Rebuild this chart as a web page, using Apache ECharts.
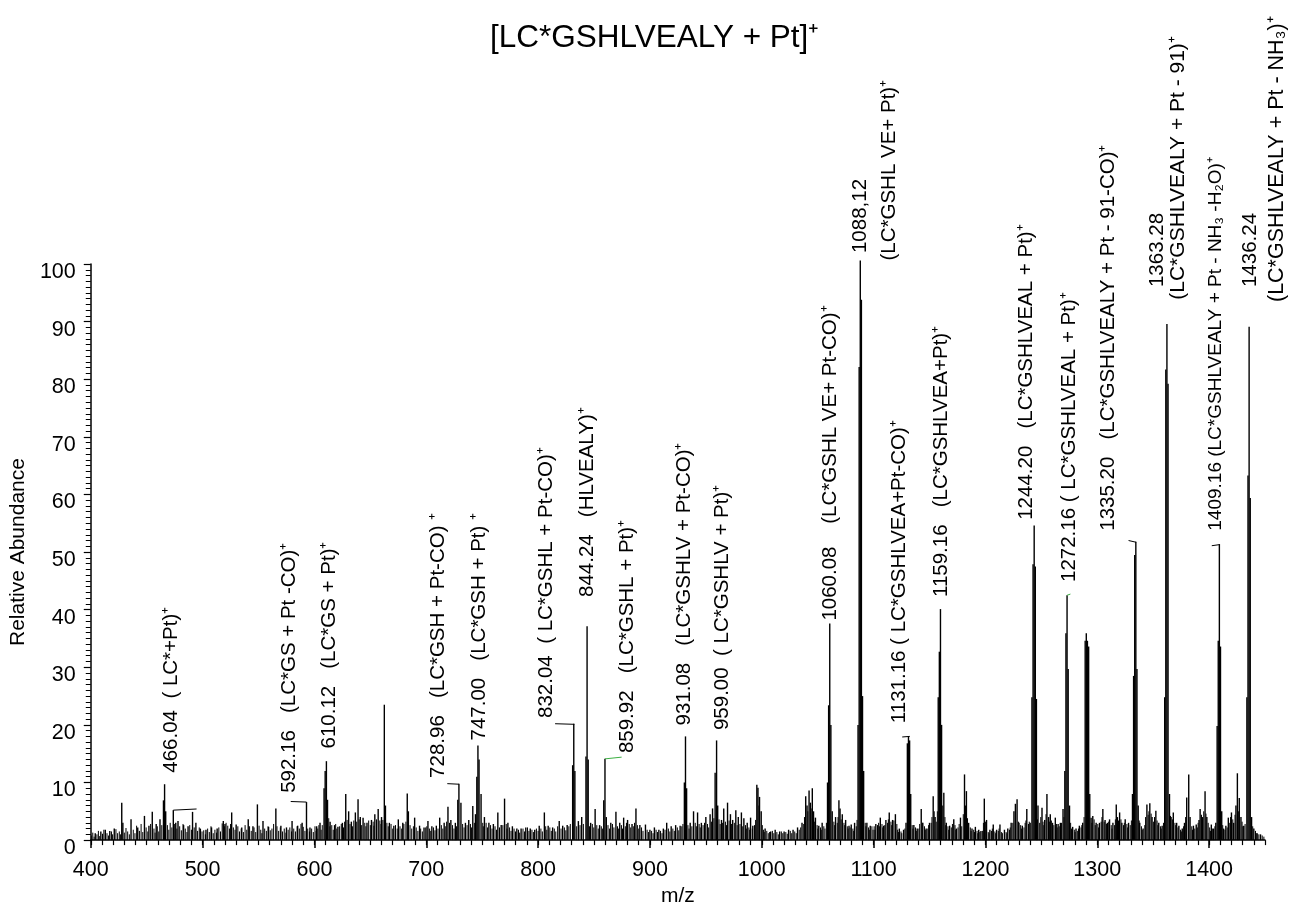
<!DOCTYPE html>
<html><head><meta charset="utf-8">
<script src="https://cdn.jsdelivr.net/npm/echarts@6/dist/echarts.min.js"></script>
<style>html,body{margin:0;padding:0;background:#fff}#c{width:1291px;height:912px}</style>
</head><body><div id="c"></div>
<script>
const FONT = '"Liberation Sans", Arial, Helvetica, sans-serif';
const titleText = '[LC*GSHLVEALY + Pt]\u207A';
const xName = 'm/z';
const yName = 'Relative Abundance';
const xMajorTicks = [400, 500, 600, 700, 800, 900, 1000, 1100, 1200, 1300, 1400];

// notable peaks [m/z, relative abundance]
const peaks = [
[404,1.2],[409,1.5],[413,1.8],[417,1.6],[421,2.0],[427.7,6.5],[428.7,3],[436,3.6],[442,2.2],[448,4.2],[452,2.5],[455,4.9],[458.5,2.8],[461.9,3.6],[465,6.9],[466.0,9.7],[467,5],[473.8,5.2],[476,3],[478,3.3],[483,2.6],[487,2.4],[491,4.9],[494,3.0],[498,2.0],
[503,1.8],[508,2.2],[513,2.0],[518.5,3.3],[520,2.8],[526,4.8],[530,2.7],[535,2.2],[540.8,3.6],[545,2.4],[549,6.2],[554,3.3],[559,2.3],[565.5,5.5],[570,2.5],[575,2.2],[580,3.3],[585,2.5],[589,3.0],[592.9,6.6],[596,2.2],
[602,2.4],[605,3.0],[608.6,9.0],[609.6,12],[610.7,13.7],[611.7,7],[614,3.2],[618,2.6],[621,2.3],[625,3],[628,8],[630.6,5],[633,3.2],[636.6,4.8],[639,7.1],[641,4],[643.5,3.9],[647,3],[651,3.5],[654,4.5],[657,5.4],[660,4],[662.5,23.5],[663.5,6],[667,3],[671,2.5],[675,3.6],[679,3],[683,8.1],[684,5],[689.6,3.9],[694,2.5],[698,2.2],
[701.5,3.3],[705,2.4],[709,2.5],[712,3.9],[716,3],[719.4,5.8],[722,3.5],[726,3],[728.2,7],[729.2,9.8],[731,6.5],[735,3],[738,3.5],[741.6,5.9],[744,4.5],[745.2,11],[746.2,16.4],[747.2,14],[749,8],[752,4],[756,3],[760,2.8],[764,4.8],[767,2.6],[770,7.2],[773,3],[777,2.4],[781,2],[784.8,2],[789,2.2],[793,2],[797,1.8],
[801,2.5],[805.6,4.8],[809,2.5],[813,2.2],[818.9,3.3],[822,2.5],[826,2.6],[830.9,13],[831.9,20.2],[832.9,12],[836,3.3],[839,4],[842.8,14.5],[843.8,37.1],[844.8,14],[847,3],[851,5.4],[855,2.6],[858.7,6.9],[859.8,14.1],[861,4],[865,3],[869.6,4.9],[873,3],[876.5,3.9],[880,3.5],[884,2.8],[887.5,5.5],[891,2.6],[896,2.7],
[900,1.8],[904,2.2],[908,1.8],[912,2],[915,3.0],[919,2.4],[923,2.6],[927,2.5],[930.8,10],[931.8,18.0],[932.8,9],[936,3],[939,5],[942.6,4.8],[946,3],[950,4],[953.8,4.5],[956,5.5],[958.3,11.7],[959.6,17.3],[960.6,6],[964,3.5],[966,5.5],[969.4,6.5],[972,4.5],[974,3.5],[976.8,5.2],[979,4],[981.8,4.8],[984,3.8],[987,3],[990,3.9],[992,2.5],[995.6,9.6],[996.6,9.1],[998,7.5],[999.5,5],
[1003,2],[1008,1.5],[1012,1.8],[1016,1.5],[1020,1.5],[1024,1.8],[1028,1.8],[1032,2.2],[1036,3],[1039.3,7.6],[1040.5,6],[1042.3,8.6],[1043.5,6.5],[1045.2,9.0],[1046.3,5],[1048,3.9],[1051,2.5],[1054,3],[1058.8,10],[1059.8,23.4],[1060.8,37.6],[1061.8,20],[1063,5],[1066,4],[1069,6.9],[1070,5.5],[1072,4.5],[1075,3.5],[1078,2.5],[1080,2.7],[1083,3],[1086.1,20],[1087.1,82.1],[1088.1,100.6],[1089.1,93.8],[1090.1,25],[1091.1,12],[1094,3],[1097,2.5],
[1102,2.8],[1106,3.9],[1109,2.5],[1111,3.5],[1114,4.8],[1117,3.5],[1119.5,4.5],[1123,2],[1126.8,1.8],[1129,3],[1130.2,16.8],[1131.2,17.9],[1132.2,17.3],[1133.2,8],[1136,2.6],[1139,2],[1142.6,5.4],[1144,3],[1147,2],[1150,3],[1153.3,7.6],[1155,4],[1157.8,24.8],[1158.8,32.7],[1159.8,40.1],[1160.8,20],[1162.8,8.2],[1165,3],[1168,2.5],[1171.7,3.6],[1174,2],[1177.7,3.9],[1181.3,11.4],[1183,8.5],[1185,3],[1188,2],[1191,2.3],[1194,1.8],[1196,1.6],[1199,7.2],[1201,3.5],
[1204,1.8],[1207,2.7],[1210,1.8],[1213,2.7],[1217,1.8],[1220,2],[1223,3],[1225.5,5],[1226.8,6.3],[1228.3,7.1],[1230,3],[1233,2.5],[1237,5.4],[1240,3],[1241.6,24.8],[1242.6,47.9],[1243.6,54.6],[1244.6,47.5],[1245.6,24.5],[1247,6],[1250.6,5.6],[1253,3.5],[1255,8],[1256.5,4],[1258,4.5],[1260,3],[1262.5,3.9],[1265,2.8],[1267,3],[1269.4,5.4],[1271,12],[1272,35.9],[1273,42.5],[1274,29.7],[1275.2,6],[1278,2.3],[1281,2],[1284,2.5],[1287,3],[1289.2,34.6],[1290.2,35.9],[1291.2,34.6],[1292.3,33.6],[1293.3,8],[1294.5,3.9],[1296,4.2],[1299,3],
[1302,3],[1305,5.4],[1307,3.5],[1309,3],[1311,3.6],[1314,3],[1317,6.2],[1318,4],[1320,4.8],[1322,3],[1325,3.6],[1328,3],[1331.5,8],[1332.5,28.5],[1333.5,49.5],[1334.5,51.8],[1335.5,29.7],[1336.6,6],[1338,3],[1341,2],[1344.4,6.2],[1347,6.4],[1349,4],[1352.4,5.1],[1355,3],[1358,2.5],[1360.3,24.8],[1361.3,81.7],[1362.3,89.6],[1363.3,79.2],[1364.6,8],[1366,4],[1368,4.8],[1371,3],[1373,2.5],[1376,2],[1378,3],[1380,7.4],[1381.8,11.4],[1383,4],[1386,2.5],[1388.5,2.7],[1391,3.5],[1392,5.4],[1394,4],[1396.4,8.5],[1398,4],
[1402,2.7],[1404,2],[1406,3],[1407.2,19.8],[1408.2,34.6],[1409.2,51.3],[1410.2,33.6],[1411.3,5],[1413,2],[1415,2.5],[1417.2,3.9],[1420,4.8],[1422,3],[1424,6],[1425.3,11.6],[1427,7.3],[1428.5,4],[1431,2.5],[1433.8,24.8],[1434.8,63.3],[1435.8,89.1],[1436.8,59.4],[1438,4],[1440,2],[1443,1.2],[1446,1]
];

// low-level baseline noise [m/z, relative abundance]
const noise = [
[400.5,0.8],[401.8,1.3],[403,0.6],[405.5,1.0],[406.8,1.6],[408,0.7],[410.5,1.1],[411.7,1.8],[414.5,1.2],[415.8,0.8],[418.5,1.5],[419.5,1.0],[422.5,1.9],[424,1.2],[425.5,1.5],[426.5,1.0],[430,1.3],[431.5,2.1],[433,1.5],[434.5,1.0],[438,1.8],[439.5,1.2],[441,2.5],[443.5,1.6],[445,2.8],[446.5,1.4],[449.5,2.2],[451,1.5],[453.5,2.8],[456.5,2.0],[457.5,1.3],[459.5,2.4],[460.8,1.5],[463.5,2.6],[468.5,2.6],[469.8,1.8],[471,3.0],[472.5,2.2],[475,2.8],[477,2.0],[479.5,2.4],[481,1.7],[482.5,2.8],[484.5,2.0],[486,1.4],[488.5,2.6],[490,1.8],[492.5,2.2],[495.5,1.6],[497,2.2],[499.5,1.5],
[501,1.7],[502.5,1.0],[504.5,2.0],[506,1.4],[507.5,2.4],[509.5,1.2],[511,1.8],[512.5,1.3],[514.5,2.2],[516,1.5],[517.5,2.9],[519.5,2.4],[521,3.0],[522.5,2.5],[524,2.0],[525,2.8],[527.5,2.2],[529,1.8],[531.5,2.4],[533,1.5],[534.5,2.0],[536.5,1.4],[538,2.6],[539.5,1.8],[542,2.4],[543.5,1.6],[546,2.2],[547.5,1.4],[550.5,2.5],[552,1.8],[553,1.2],[555.5,2.0],[557,1.6],[558.5,2.4],[560.5,1.7],[562,2.0],[563.5,2.8],[566.5,2.4],[568,1.6],[569.5,2.2],[571.5,1.5],[573,2.0],[574.5,1.3],[576.5,1.8],[578,2.2],[579.5,1.5],[581.5,2.0],[583,1.5],[584.5,2.4],[586.5,2.0],[588,2.8],[590,2.3],[591.5,1.6],[594,2.0],[595.5,1.5],[597.5,2.0],[599,1.4],
[600.5,2.4],[601.5,1.6],[603,2.0],[604,2.6],[606,1.8],[607,2.6],[612.8,3.8],[613.8,2.4],[615.5,2.6],[616.8,1.8],[619,2.8],[620,2.0],[622.5,2.4],[624,2.8],[626,2.2],[627,3.2],[629.2,3.5],[631.8,2.8],[634,2.4],[635.2,3.4],[637.8,3.2],[640,3.6],[642.2,2.6],[645,3.0],[646,2.4],[648.5,3.4],[650,2.6],[652.5,3.2],[653.2,2.5],[655.5,3.6],[658.5,3.4],[659.5,2.8],[661.2,3.5],[664.8,3.0],[666,2.4],[668.5,2.8],[670,2.0],[672.5,2.6],[674,2.0],[676.5,2.4],[678,2.0],[680,2.8],[681.8,3.2],[685.5,2.6],[687,2.0],[688.5,2.4],[691,2.2],[692.5,1.6],[695,2.0],[696.5,1.5],[699.5,2.2],
[700.5,2.4],[703,2.0],[704,1.6],[706.5,2.2],[707.8,1.7],[710.5,2.0],[713.5,2.6],[714.8,2.0],[717,2.4],[718.2,3.2],[720.8,3.0],[723.5,2.6],[724.8,2.0],[727,2.4],[732.5,2.8],[733.8,2.2],[736.5,2.6],[739.5,2.8],[740.5,2.2],[743,3.0],[750.5,3.0],[751,2.4],[753.5,3.0],[754.8,2.2],[757.5,2.6],[758.8,2.0],[761.5,2.4],[762.8,1.8],[765.5,2.2],[768.5,2.6],[771.5,2.8],[772.2,2.0],[774.5,2.2],[775.8,1.6],[778.5,2.0],[779.8,1.5],[782.5,1.8],[783.5,1.3],[786.5,2.0],[787.8,1.5],[790.5,2.2],[791.8,1.6],[794.5,1.8],[795.8,1.4],[798.5,2.0],
[800,1.6],[802.5,2.0],[803.8,1.5],[806.8,2.4],[807.8,1.8],[810.5,2.2],[811.8,1.6],[814.5,2.0],[815.8,1.5],[817.5,2.4],[820.5,2.0],[823.5,2.2],[824.8,1.7],[827.5,2.4],[828.8,2.8],[834.5,2.4],[837.5,2.6],[840.5,2.8],[846,2.4],[848.5,2.8],[849.8,2.2],[852.5,2.6],[853.8,2.0],[856.5,2.4],[857.5,2.0],[862.5,2.6],[863.8,2.0],[866.5,2.8],[867.8,2.2],[871,2.4],[872,2.0],[874.5,2.6],[875.5,2.0],[878,2.4],[879,3.0],[881.5,2.8],[882.8,2.2],[885.5,2.4],[886.2,3.0],[888.8,2.6],[890,2.0],[892.5,2.2],[893.8,1.6],[897.5,1.8],[898.8,1.4],
[901.5,1.6],[902.8,1.2],[905.5,1.8],[906.8,1.4],[909.5,1.6],[910.8,1.2],[913.5,1.8],[916.5,2.0],[917.8,1.5],[920.5,2.0],[921.8,1.6],[924.5,2.2],[925.8,1.7],[928.5,2.4],[929.5,2.8],[934,2.6],[935,2.0],[937.5,2.4],[940.5,3.0],[941.5,2.4],[944,2.8],[945,2.2],[947.5,2.6],[948.8,3.0],[951.5,2.8],[952.5,2.2],[955,3.2],[957.2,3.8],[961.8,3.6],[962.8,2.8],[965,3.0],[967.5,3.2],[968.5,2.6],[970.8,3.4],[973,2.8],[975.5,3.0],[978,2.6],[980.5,2.8],[983,2.4],[985.5,2.6],[986.2,2.0],[988.5,2.2],[989.2,1.8],[991.5,2.0],[993.5,2.6],[994.5,3.5],[997.5,6.0],
[1000.5,2.6],[1001.5,1.8],[1002.2,1.4],[1004.5,1.6],[1005.8,1.2],[1007,1.4],[1009.5,1.6],[1010.8,1.2],[1013.5,1.4],[1014.8,1.0],[1017.5,1.5],[1018.8,1.2],[1021.5,1.4],[1022.8,1.1],[1025.5,1.6],[1026.8,1.2],[1029.5,1.5],[1030.8,1.2],[1033.5,1.8],[1034.8,2.2],[1037.5,2.8],[1038.2,4.0],[1041.2,5.0],[1044.2,5.5],[1047,3.2],[1049.5,2.6],[1050.2,2.0],[1052.5,2.2],[1053.2,1.8],[1055.5,2.4],[1056.5,2.0],[1057.8,3.0],[1064.5,3.2],[1065.2,2.6],[1067.5,3.0],[1068.2,4.0],[1071,3.6],[1073.5,3.0],[1074.2,2.6],[1076.5,2.4],[1077.2,2.0],[1079,2.2],[1081.5,2.0],[1082.2,1.6],[1084.5,2.4],[1085.2,3.5],[1092.5,3.0],[1093.2,2.4],[1095.5,2.2],[1096.2,1.8],[1098.5,2.4],[1099.5,1.8],
[1100.5,2.4],[1101.2,1.8],[1103.5,2.6],[1104.5,3.0],[1105.2,2.4],[1107.5,2.8],[1108.2,2.2],[1110,2.6],[1112.5,3.0],[1113.2,3.6],[1115.5,3.2],[1116.2,2.6],[1118.2,3.4],[1120.8,2.8],[1121.5,1.8],[1122.2,1.4],[1124.5,1.5],[1125.2,1.2],[1128,2.0],[1134.5,2.6],[1135.2,2.0],[1137.5,2.2],[1138.2,1.6],[1140.5,2.0],[1141.2,2.8],[1143.5,3.0],[1145.5,2.4],[1146.2,1.8],[1148.5,2.0],[1149.2,2.6],[1151.5,3.0],[1152.2,4.0],[1154.2,5.0],[1156,3.2],[1157,5.0],[1161.8,6.0],[1163.8,4.0],[1164.5,2.6],[1166.5,2.4],[1167.2,1.8],[1169.5,2.2],[1170.5,2.8],[1172.8,2.6],[1173.5,1.8],[1175.5,2.2],[1176.5,2.8],[1178.8,2.4],[1180.2,4.5],[1182.2,6.0],[1184,3.8],[1186.5,2.2],[1187.2,1.6],[1189.5,1.8],[1190.2,1.4],[1192.5,1.6],[1193.2,1.2],[1195,1.4],[1197.5,1.6],[1198.2,3.0],[1200,3.2],
[1202.5,1.4],[1203.2,1.2],[1205.5,1.6],[1206.2,2.0],[1208.5,1.5],[1209.2,1.2],[1211.5,1.6],[1212.2,2.0],[1214.5,1.4],[1215.2,1.2],[1218.5,1.4],[1219.2,1.2],[1221.5,1.8],[1222.2,2.2],[1224.5,3.0],[1229.5,3.2],[1231.5,2.6],[1232.2,2.0],[1234.5,2.2],[1235.5,3.0],[1236.2,3.4],[1238.5,2.8],[1239.2,3.2],[1246.5,3.6],[1248.5,3.0],[1249.5,4.0],[1251.5,3.2],[1252.2,2.6],[1254.2,4.5],[1257.2,3.2],[1259,3.4],[1261.2,2.6],[1263.5,2.8],[1264.2,2.2],[1266,2.4],[1268,3.0],[1270.2,4.0],[1276.2,3.0],[1277,2.0],[1279.5,1.8],[1280.2,1.4],[1282.5,1.6],[1283.2,2.0],[1285.5,2.2],[1286.2,2.6],[1288.2,4.0],[1295.2,3.0],[1297.2,3.6],[1298.2,2.6],
[1300.5,2.8],[1301.2,2.2],[1303.5,3.2],[1304.2,4.0],[1306.2,3.2],[1308.2,2.8],[1310.2,3.2],[1312.5,2.6],[1313.2,2.0],[1315.5,2.6],[1316.2,3.6],[1319,3.4],[1321.2,3.6],[1323.5,2.6],[1324.2,3.0],[1326.5,2.8],[1327.2,2.2],[1329.5,2.6],[1330.5,3.4],[1337.5,3.4],[1339.5,2.4],[1340.2,1.8],[1342.5,2.6],[1343.2,4.0],[1345.5,4.4],[1346.2,5.0],[1348.2,4.6],[1350.2,3.2],[1351.2,4.0],[1353.5,3.4],[1354.2,2.6],[1356.5,2.4],[1357.2,2.0],[1359.2,3.0],[1365.5,4.2],[1367.2,3.6],[1369.5,3.0],[1370.2,2.6],[1372.2,2.2],[1374.5,1.8],[1375.2,1.5],[1377.2,2.4],[1379,4.0],[1384.5,2.4],[1385.2,1.8],[1387.2,2.0],[1389.5,2.2],[1390.2,3.0],[1393.2,4.4],[1395.2,5.0],[1397.2,4.6],[1399.2,3.0],
[1400.5,2.2],[1401.2,1.6],[1403.2,2.0],[1405.2,2.4],[1412.2,2.6],[1414.2,1.8],[1416.2,2.2],[1418.5,3.0],[1419.2,4.0],[1421.2,3.6],[1423.2,4.4],[1426.2,5.0],[1429.5,3.2],[1430.2,2.4],[1432.2,2.8],[1439,2.4],[1441.5,1.6],[1442.2,1.2],[1444.5,1.0],[1447.5,0.8],[1449,0.6]
];

// peak annotations: text and anchor (m/z, abundance) of the text's start
const annTexts = [
'466.04  ( LC*+Pt)\u207A',
'592.16   (LC*GS + Pt -CO)\u207A',
'610.12   (LC*GS + Pt)\u207A',
'728.96   (LC*GSH + Pt-CO) \u207A',
'747.00   (LC*GSH + Pt) \u207A',
'832.04  ( LC*GSHL + Pt-CO)\u207A',
'844.24   (HLVEALY)\u207A',
'859.92   (LC*GSHL + Pt)\u207A',
'931.08   (LC*GSHLV + Pt-CO)\u207A',
'959.00  ( LC*GSHLV + Pt)\u207A',
'1060.08    (LC*GSHL VE+ Pt-CO)\u207A',
'1088,12',
'(LC*GSHL VE+ Pt)\u207A',
'1131.16 ( LC*GSHLVEA+Pt-CO)\u207A',
'1159.16   (LC*GSHLVEA+Pt)\u207A',
'1244.20   (LC*GSHLVEAL + Pt)\u207A',
'1272.16 ( LC*GSHLVEAL + Pt)\u207A',
'1335.20   (LC*GSHLVEALY + Pt - 91-CO)\u207A',
'1363.28',
'(LC*GSHLVEALY + Pt - 91)\u207A',
'1409.16 (LC*GSHLVEALY + Pt - NH\u2083 -H\u2082O)\u207A',
'1436.24',
'(LC*GSHLVEALY + Pt - NH\u2083)\u207A'
];
const annMz = [472.3, 577.7, 613.4, 710.7, 747.3, 807, 843.8, 879.5, 930.4, 965.2, 1061.5, 1088, 1114, 1123, 1160.7, 1236.6, 1275, 1309.8, 1353.6, 1372, 1406, 1436.6, 1460.7];
const annAb = [11.7, 8.2, 15.9, 10.8, 17.3, 21.2, 42.2, 15.1, 19.9, 19.1, 38.1, 101.9, 100.6, 20.3, 42.2, 55.6, 44.8, 53.7, 96, 93.8, 53.7, 96, 93.4];
const annSize = [20.5, 20.5, 20.5, 20.5, 20.5, 20.5, 20.5, 20.5, 20.5, 20.5, 20.5, 20.5, 20.5, 20.5, 20.5, 20.5, 20.5, 20.5, 20.5, 21, 19, 20.5, 21.5];

// leader lines [m/z1, ab1, m/z2, ab2]
const leaders = [
[473.8,5.2,494.6,5.4],[578.8,6.7,592.9,6.6],[718.8,9.8,729.2,9.7],[815.2,20.2,832.4,20.1],
[1125.6,17.9,1132.4,18.0],[1328,52.0,1334.8,51.7],[1402.4,51.1,1409.8,51.3]
];
const greenLeaders = [[859.8,14.1,874.7,14.4],[1273,42.5,1276,42.7]];

const chart = echarts.init(document.getElementById('c'), null, {renderer:'canvas'});

function stick(width){
  return function(params, api){
    const x = api.value(0), y = api.value(1);
    const p0 = api.coord([x, 0]), p1 = api.coord([x, y]);
    return {type:'line', shape:{x1:p0[0], y1:p0[1], x2:p1[0], y2:p1[1]},
      style:{stroke:'#000', lineWidth:width}, silent:true};
  };
}
function seg(color){
  return function(params, api){
    const a = api.coord([api.value(0), api.value(1)]);
    const b = api.coord([api.value(2), api.value(3)]);
    return {type:'line', shape:{x1:a[0], y1:a[1], x2:b[0], y2:b[1]},
      style:{stroke:color, lineWidth:1}, silent:true};
  };
}

const annData = annTexts.map((t, i) => [annMz[i], annAb[i]]);

chart.setOption({
  animation:false,
  backgroundColor:'#fff',
  title:{text:titleText, left:490, top:22, padding:0,
    textStyle:{fontFamily:FONT, fontSize:31.5, fontWeight:'normal', color:'#000'}},
  grid:{left:89, right:26, top:264, bottom:66, containLabel:false},
  xAxis:[{
    type:'value', min:400, max:1450, interval:100,
    name:xName, nameLocation:'middle', nameGap:40,
    nameTextStyle:{fontFamily:FONT, fontSize:21, color:'#000'},
    axisLine:{show:true, onZero:false, lineStyle:{color:'#000', width:1.5}},
    axisTick:{show:true, length:8, customValues:xMajorTicks, lineStyle:{color:'#000', width:1.5}},
    axisLabel:{fontFamily:FONT, fontSize:21.5, color:'#000', margin:19, customValues:xMajorTicks,
      formatter:function(v){ return String(v); }},
    splitLine:{show:false}
  },{
    type:'value', min:400, max:1450, interval:10, position:'bottom',
    axisLine:{show:false},
    axisTick:{show:true, length:5, lineStyle:{color:'#000', width:1.2}},
    axisLabel:{show:false}, splitLine:{show:false}
  }],
  yAxis:{
    type:'value', min:0, max:100, interval:10,
    name:yName, nameLocation:'middle', nameGap:57,
    nameTextStyle:{fontFamily:FONT, fontSize:21, color:'#000'},
    axisLine:{show:true, lineStyle:{color:'#000', width:1.5}},
    axisTick:{show:true, length:7, lineStyle:{color:'#000', width:1.2}},
    minorTick:{show:true, splitNumber:10, length:5, lineStyle:{color:'#000', width:1}},
    axisLabel:{fontFamily:FONT, fontSize:21.5, color:'#000', margin:15, verticalAlign:'top',
      lineHeight:16, formatter:function(v){ return String(v); }},
    splitLine:{show:false}
  },
  series:[
    {type:'custom', name:'noise', xAxisIndex:0, renderItem:stick(1.0), data:noise, encode:{x:0, y:1}, clip:false, silent:true},
    {type:'custom', name:'peaks', xAxisIndex:0, renderItem:stick(1.4), data:peaks, encode:{x:0, y:1}, clip:false, silent:true},
    {type:'custom', name:'leaders', xAxisIndex:0, renderItem:seg('#000'), data:leaders, encode:{x:[0,2], y:[1,3]}, clip:false, silent:true},
    {type:'custom', name:'greenLeaders', xAxisIndex:0, renderItem:seg('#3cb043'), data:greenLeaders, encode:{x:[0,2], y:[1,3]}, clip:false, silent:true},
    {type:'custom', name:'labels', xAxisIndex:0, data:annData, encode:{x:0, y:1}, clip:false, silent:true,
      renderItem:function(params, api){
        const p = api.coord([api.value(0), api.value(1)]);
        return {type:'text', x:p[0], y:p[1], rotation:Math.PI/2, silent:true,
          style:{text:annTexts[params.dataIndex], fill:'#000', fontSize:annSize[params.dataIndex], fontFamily:FONT,
            align:'left', verticalAlign:'middle'}};
      }}
  ]
});
</script>
</body></html>
